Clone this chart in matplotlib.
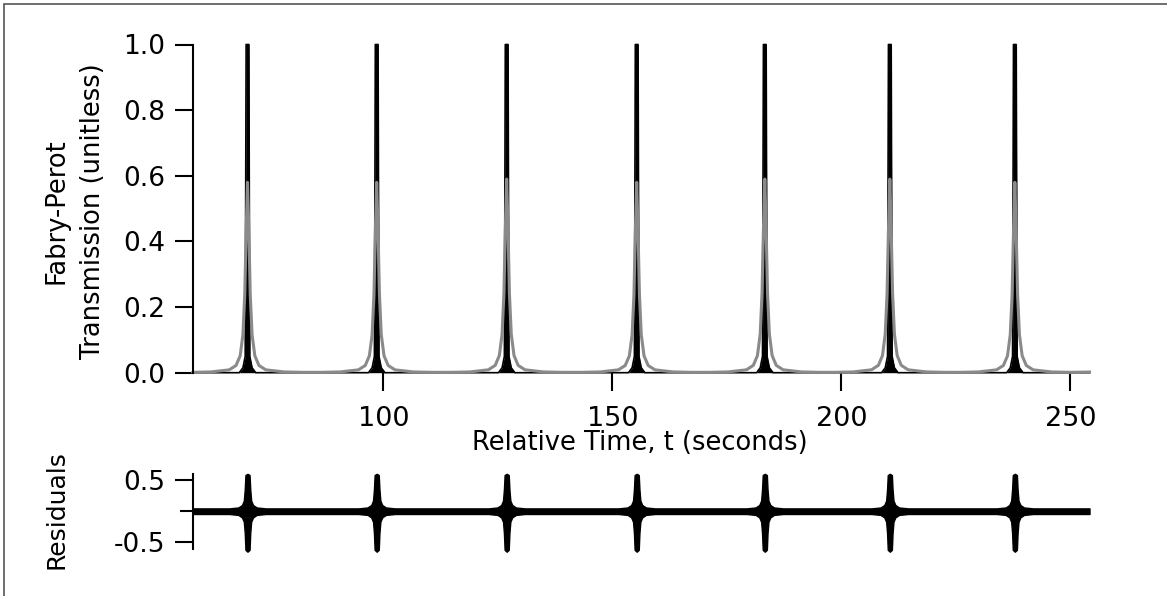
import numpy as np
import matplotlib.pyplot as plt
from matplotlib.patches import Rectangle

# peak centres (s) and peak heights of the measured trace and of the fit
peak_times = [70.35, 98.56, 126.94, 155.33, 183.3, 210.6, 237.9]
data_heights = [1.0, 1.0, 1.0, 1.0, 1.0, 1.0, 1.0]
fit_heights = [0.58, 0.58, 0.59, 0.58, 0.59, 0.59, 0.58]
t_start, t_end = 58.45, 254.2

# measured transmission around a peak: offset from centre (s), relative height
data_offsets = [-1.8, -1.0, -0.5, -0.3, 0.3, 0.5, 1.0, 1.8]
data_shape = [0.0, 0.015, 0.05, 1.0, 1.0, 0.05, 0.015, 0.0]

# fitted line shape around a peak
fit_offsets = [-12, -8, -4, -2.5, -1.6, -1.0, -0.6, -0.3, 0,
               0.3, 0.6, 1.0, 1.6, 2.5, 4, 8, 12]
fit_shape = [0.002, 0.004, 0.015, 0.038, 0.089, 0.2, 0.41, 0.735, 1.0,
             0.735, 0.41, 0.2, 0.089, 0.038, 0.015, 0.004, 0.002]

# residual envelope around a peak
res_offsets = [-4, -2, -1.2, -0.8, -0.6, -0.45, 0, 0.45, 0.6, 0.8, 1.2, 2, 4]
res_upper = [0.045, 0.06, 0.1, 0.17, 0.35, 0.58, 0.6, 0.58, 0.35, 0.17, 0.1, 0.06, 0.045]
res_lower = [-0.045, -0.06, -0.1, -0.17, -0.35, -0.62, -0.65, -0.62, -0.35, -0.17, -0.1, -0.06, -0.045]
res_base = 0.045


def build_trace(offsets, shape, heights, edge=0.0):
    xs, ys = [t_start], [edge]
    for c, h in zip(peak_times, heights):
        xs.extend(c + np.asarray(offsets))
        ys.extend(h * np.asarray(shape))
    xs.append(t_end)
    ys.append(edge)
    return np.asarray(xs), np.asarray(ys)


W, H = 1167, 596
fig = plt.figure(figsize=(W / 100, H / 100), dpi=100)
plt.rcParams['font.family'] = 'DejaVu Sans'

ax1 = fig.add_axes([193 / W, 1 - 372.7 / H, 896.5 / W, 328.2 / H])
ax2 = fig.add_axes([193 / W, 1 - 548.6 / H, 896.5 / W, 74.8 / H])

# transmission data and fit
dx, dy = build_trace(data_offsets, data_shape, data_heights)
fx, fy = build_trace(fit_offsets, fit_shape, fit_heights, edge=0.002)
ax1.fill_between(dx, 0, dy, color='black', lw=0, clip_on=False)
ax1.plot(dx, dy, color='black', lw=1.2, clip_on=False)
ax1.plot(fx, fy, color='#8a8a8a', lw=2.2, clip_on=False)

ax1.set_xlim(t_start, t_end)
ax1.set_ylim(0, 1)
ax1.set_xticks([100, 150, 200, 250])
ax1.set_yticks([0, 0.2, 0.4, 0.6, 0.8, 1.0])
ax1.set_yticklabels(['%.1f' % v for v in [0, 0.2, 0.4, 0.6, 0.8, 1.0]])
for s in ['top', 'right', 'bottom']:
    ax1.spines[s].set_visible(False)
ax1.spines['left'].set_linewidth(1.5)
ax1.tick_params(axis='y', direction='out', length=13, width=1.5, pad=7, labelsize=19)
ax1.tick_params(axis='x', direction='out', length=13, width=1.5, pad=11, labelsize=19.5)

# residuals
rx, rhi = build_trace(res_offsets, res_upper, [1] * len(peak_times), edge=res_base)
_, rlo = build_trace(res_offsets, res_lower, [1] * len(peak_times), edge=-res_base)
ax2.fill_between(rx, rlo, rhi, color='black', lw=1.0, edgecolor='black', clip_on=False)
ax2.set_xlim(t_start, t_end)
ax2.set_ylim(-0.6, 0.6)
ax2.set_xticks([])
ax2.set_yticks([-0.5, 0.5])
ax2.set_yticklabels(['-0.5', '0.5'])
ax2.set_yticks([0], minor=True)
for s in ['top', 'right', 'bottom']:
    ax2.spines[s].set_visible(False)
ax2.spines['left'].set_linewidth(1.5)
ax2.tick_params(axis='y', which='major', direction='out', length=13, width=1.5, pad=7, labelsize=19)
ax2.tick_params(axis='y', which='minor', direction='out', length=9.5, width=1.5)

# axis titles
fig.text(75 / W, 1 - 211 / H, 'Fabry-Perot\nTransmission (unitless)', rotation=90,
         ha='center', va='center', fontsize=18.5, linespacing=1.5)
fig.text(640 / W, 1 - 443 / H, 'Relative Time, t (seconds)', ha='center', va='center', fontsize=18.5)
fig.text(57 / W, 1 - 510 / H, 'Residuals', rotation=90, ha='center', va='center', fontsize=18)

# frame around the graph window
fig.patches.append(Rectangle((4 / W, -0.1), 1.2, 1.1 - 3.5 / H, transform=fig.transFigure,
                             fill=False, edgecolor='#555555', lw=1.2))

fig.savefig('out.png', dpi=100)
